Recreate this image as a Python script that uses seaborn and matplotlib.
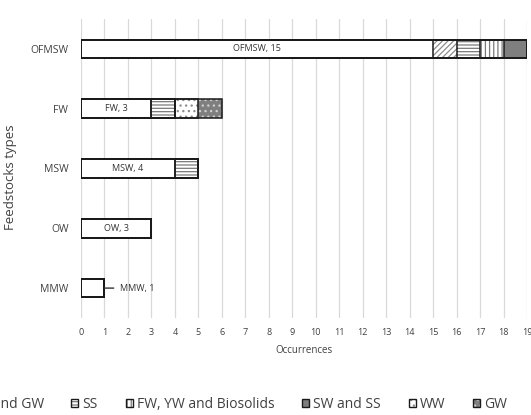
import matplotlib
matplotlib.use("Agg")
import matplotlib.pyplot as plt
from matplotlib.patches import Patch
import seaborn as sns
import pandas as pd
import numpy as np

categories = ["OFMSW", "FW", "MSW", "OW", "MMW"]
main_values = [15, 3, 4, 3, 1]
bar_texts = ["OFMSW, 15", "FW, 3", "MSW, 4", "OW, 3", "MMW, 1"]

series_labels = ["SS and GW", "SS", "FW, YW and Biosolids", "SW and SS", "WW", "GW"]
ss_gw = [1, 0, 0, 0, 0]
ss = [1, 1, 1, 0, 0]
fw_yw_bio = [1, 0, 0, 0, 0]
sw_ss = [1, 0, 0, 0, 0]
ww = [0, 1, 0, 0, 0]
gw = [0, 1, 0, 0, 0]
series_values = [ss_gw, ss, fw_yw_bio, sw_ss, ww, gw]

xticks = list(range(0, 20))

# styles: (facecolor, hatchcolor, hatch)
styles = [
    ("white", "#8c8c8c", "//////"),
    ("white", "#7a7a7a", "-----"),
    ("white", "#7a7a7a", "||||"),
    ("#7f7f7f", "#7f7f7f", None),
    ("white", "#8c8c8c", "..."),
    ("#7f7f7f", "#d0d0d0", "..."),
]

sns.set_theme(style="white")
plt.rcParams["font.family"] = ["Open Sans", "DejaVu Sans"]
plt.rcParams["hatch.linewidth"] = 0.9

fig = plt.figure(figsize=(5.31, 4.15), dpi=100)
ax = fig.add_axes([81 / 531, 1 - 318 / 415, (527 - 81) / 531, (318 - 19) / 415])

# cumulative ends
cum = [np.array(main_values, dtype=float)]
for vals in series_values:
    cum.append(cum[-1] + np.array(vals, dtype=float))

bw = 0.31

def draw_layer(ends, face, edge, hatch, lw):
    n0 = len(ax.patches)
    df = pd.DataFrame({"cat": categories, "val": ends})
    sns.barplot(data=df, x="val", y="cat", orient="h", order=categories,
                color="white", saturation=1, errorbar=None, width=bw, ax=ax)
    for p in ax.patches[n0:]:
        p.set_facecolor(face)
        p.set_edgecolor(edge)
        p.set_hatch(hatch)
        p.set_linewidth(lw)
        p.set_zorder(3)

# fill layers (largest cumulative first)
for k in range(len(series_values) - 1, -1, -1):
    face, hcol, hatch = styles[k]
    draw_layer(cum[k + 1], face, hcol, hatch, 0)
draw_layer(cum[0], "white", "white", None, 0)
# outlines
for k in range(len(series_values), -1, -1):
    draw_layer(cum[k], "none", "#1a1a1a", None, 1.1)

# bar texts
for i, (cat, v, t) in enumerate(zip(categories, main_values, bar_texts)):
    if cat == "MMW":
        ax.annotate(t, xy=(v, i), xytext=(11, 0), textcoords="offset points",
                    ha="left", va="center", fontsize=6.5, color="#333333",
                    arrowprops=dict(arrowstyle="-", color="#333333", lw=1.0,
                                    shrinkA=2, shrinkB=0), zorder=5)
    else:
        ax.text(v / 2, i, t, ha="center", va="center", fontsize=6.5,
                color="#333333", zorder=5)

ax.set_xlim(0, 19)
ax.set_ylim(4.5, -0.5)
ax.set_xticks(xticks)
ax.set_xticklabels([str(x) for x in xticks])
ax.grid(axis="x", color="#d9d9d9", linewidth=0.9)
ax.grid(axis="y", visible=False)
ax.set_axisbelow(True)
for s in ax.spines.values():
    s.set_visible(False)
ax.tick_params(axis="x", length=0, pad=7, labelsize=6.5, labelcolor="#404040")
ax.tick_params(axis="y", length=0, pad=9, labelsize=7.5, labelcolor="#404040")
ax.set_xlabel("Occurrences", fontsize=7, color="#404040", labelpad=6)
ax.set_ylabel("Feedstocks types", fontsize=9.5, color="#404040")
ax.yaxis.set_label_coords((17 - 81) / 446, (318 - 177) / 299)

handles = []
for face, hcol, hatch in styles:
    h1 = Patch(facecolor=face, edgecolor=hcol, hatch=hatch, linewidth=0)
    h2 = Patch(facecolor="none", edgecolor="#1a1a1a", linewidth=1.0)
    handles.append((h1, h2))

leg = fig.legend(handles, series_labels, loc="center right",
                 bbox_to_anchor=(507 / 531, 1 - 404 / 415), ncol=6,
                 frameon=False, fontsize=10, handlelength=0.5, handleheight=0.5,
                 handletextpad=0.3, columnspacing=2.0, borderpad=0, borderaxespad=0)
for t in leg.get_texts():
    t.set_color("#404040")

fig.savefig("out.png", dpi=100)
